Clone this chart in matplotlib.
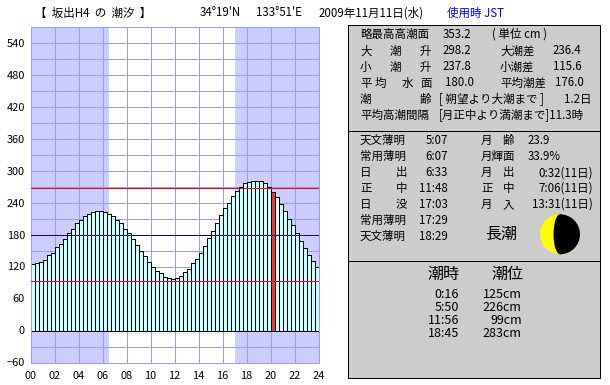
import matplotlib
matplotlib.use("Agg")
import matplotlib.pyplot as plt
from matplotlib.patches import Rectangle, Wedge, Ellipse, Circle

# ---- data ----
tide_cm = [124, 126, 129, 133, 141, 146, 156, 163, 172, 182, 191, 201,
           208, 214, 219, 223, 225, 225, 223, 219, 214, 208, 201, 191,
           182, 171, 161, 150, 139, 129, 120, 112, 107, 101, 99, 97,
           99, 103, 109, 116, 126, 135, 146, 159, 174, 187, 202, 216,
           229, 240, 252, 262, 270, 276, 279, 281, 281, 280, 276, 269,
           259, 250, 238, 225, 210, 197, 182, 167, 154, 142, 131, 120]
current_bar = 60
mean_level = 180.0
mean_high = 268.0
mean_low = 92.0
sunrise_h = 6 + 33 / 60
sunset_h = 17 + 3 / 60
moon_lit = 0.339
x_ticks = list(range(0, 25, 2))
x_labels = [f"{h:02d}" for h in x_ticks]
y_ticks = list(range(-60, 541, 60))
y_minor = list(range(-60, 571, 30))

title_parts = [(35, "【  坂出H4  の  潮汐  】", "black"), (200, "34°19'N", "black"),
               (256, "133°51'E", "black"), (319, "2009年11月11日(水)", "black"),
               (447, "使用時 JST", "#0000ff")]
panel1 = [
    (34.5, [(360, "略最高高潮面"), (443, "353.2"), (492, "( 単位 cm )")]),
    (51, [(360, "大"), (390, "潮"), (420, "升"), (443, "298.2"), (500, "大潮差"), (553, "236.4")]),
    (67, [(360, "小"), (390, "潮"), (420, "升"), (443, "237.8"), (500, "小潮差"), (553, "115.6")]),
    (83, [(360, "平"), (375, "均"), (402, "水"), (420, "面"), (445, "180.0"), (500, "平均潮差"), (555, "176.0")]),
    (99, [(360, "潮"), (420, "齢"), (439, "[ 朔望より大潮まで ]"), (564, "1.2日")]),
    (115, [(360, "平均高潮間隔"), (439, "[月正中より満潮まで]11.3時")]),
]
panel2_rows = [140.3, 156.7, 172.7, 188.3, 204.3, 220.7, 236.7]
sun_names = [[(360, "天文薄明")], [(360, "常用薄明")], [(360, "日"), (396, "出")],
             [(360, "正"), (396, "中")], [(360, "日"), (396, "没")],
             [(360, "常用薄明")], [(360, "天文薄明")]]
sun_times = ["5:07", "6:07", "6:33", "11:48", "17:03", "17:29", "18:29"]
moon_names = [[(481, "月"), (503, "齢")], [(481, "月輝面")], [(481, "月"), (503, "出")],
              [(481, "正"), (503, "中")], [(481, "月"), (503, "入")]]
moon_values = ["23.9", "33.9%", "0:32(11日)", "7:06(11日)", "13:31(11日)"]
tide_name = "長潮"
extreme_times = ["0:16", "5:50", "11:56", "18:45"]
extreme_levels = ["125cm", "226cm", "99cm", "283cm"]
extreme_rows = [295, 307.3, 320.7, 333.3]

# ---- figure ----
W, H = 610, 385
px = 72 / 100
plt.rcParams["font.family"] = ["Noto Sans CJK JP", "DejaVu Sans"]
fig = plt.figure(figsize=(W / 100, H / 100), dpi=100, facecolor="white")

ax = fig.add_axes([30.5 / W, (H - 362.5) / H, 288 / W, 336 / H])
ax.set_xlim(0, 24)
ax.set_ylim(-60, 570)
grid_c = "#9999ff"
night_c = "#ccccff"
ax.axvspan(0, sunrise_h, color=night_c, lw=0, zorder=0)
ax.axvspan(sunset_h, 24, color=night_c, lw=0, zorder=0)
ax.set_xticks(x_ticks)
ax.set_xticklabels(x_labels)
ax.set_yticks(y_minor, minor=True)
ax.set_yticks(y_ticks)
ax.grid(True, which="both", color=grid_c, lw=px, zorder=1)
ax.set_axisbelow(True)
ax.tick_params(which="both", length=0, labelsize=11 * px, colors="black")
ax.tick_params(axis="y", pad=4)
ax.tick_params(axis="x", pad=6)
for s in ax.spines.values():
    s.set_color(grid_c)
    s.set_linewidth(px)

step = 1 / 3
xs = [i * step for i in range(len(tide_cm))]
colors = ["#ff3333" if i == current_bar else "#ccffff" for i in range(len(tide_cm))]
ax.bar(xs, tide_cm, width=step, align="edge", color=colors, edgecolor="black",
       linewidth=px, zorder=2, antialiased=False)
ax.axhline(mean_high, color="#ff0000", lw=px, zorder=3)
ax.axhline(mean_low, color="#ff0000", lw=px, zorder=3)
ax.axhline(mean_level, color="#0000aa", lw=px, zorder=3)

ov = fig.add_axes([0, 0, 1, 1])
ov.set_xlim(0, W)
ov.set_ylim(H, 0)
ov.axis("off")
ov.patch.set_alpha(0)

for top, bottom in [(24.5, 130.5), (130.5, 260.5), (260.5, 377.5)]:
    ov.add_patch(Rectangle((347.5, top), 252.5, bottom - top, facecolor="#cccccc",
                           edgecolor="black", lw=px))


def t(x, y, s, size=11.5, color="black", ha="left"):
    ov.text(x, y, s, fontsize=size * px, color=color, ha=ha, va="center")


for x, s, c in title_parts:
    t(x, 13, s, color=c)
for y, items in panel1:
    for x, s in items:
        t(x, y, s)
for y, names in zip(panel2_rows, sun_names):
    for x, s in names:
        t(x, y, s)
for y, s in zip(panel2_rows, sun_times):
    t(448, y, s, ha="right")
for y, names in zip(panel2_rows, moon_names):
    for x, s in names:
        t(x, y, s)
for i, (y, s) in enumerate(zip(panel2_rows, moon_values)):
    if i < 2:
        t(528, y, s)
    else:
        t(593, y, s, ha="right")
t(501, 234, tide_name, size=16, ha="center")

# moon
cx, cy, R = 560, 234.3, 20
ov.add_patch(Circle((cx, cy), R, facecolor="#ffff00", edgecolor="none"))
ov.add_patch(Wedge((cx, cy), R, -90, 90, facecolor="black", edgecolor="none"))
ov.add_patch(Ellipse((cx, cy), 2 * R * (1 - 2 * moon_lit), 2 * R, facecolor="black", edgecolor="none"))

t(443, 274.3, "潮時", size=16, ha="center")
t(507.5, 274.3, "潮位", size=16, ha="center")
for y, a, b in zip(extreme_rows, extreme_times, extreme_levels):
    t(459, y, a, size=12.5, ha="right")
    t(521.7, y, b, size=12.5, ha="right")

fig.savefig("out.png", dpi=100, facecolor="white")
